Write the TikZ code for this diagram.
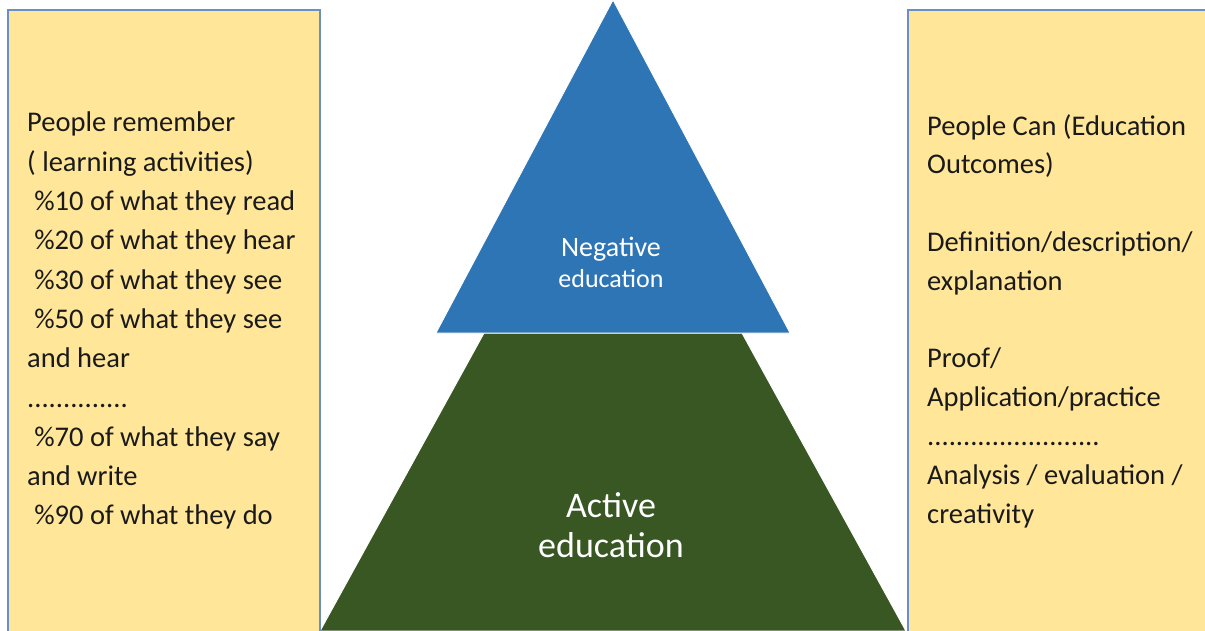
\documentclass[tikz,border=0pt]{standalone}
\usepackage{fontspec}
\setmainfont{Carlito}
\definecolor{boxfill}{HTML}{FFE699}
\definecolor{boxline}{HTML}{6A8FC4}
\definecolor{triblue}{HTML}{2E75B6}
\definecolor{trigreen}{HTML}{385723}
\definecolor{txt}{HTML}{1A1A1A}
\begin{document}
\begin{tikzpicture}[x=1pt,y=-1pt,
  sidebox/.style={fill=boxfill,draw=boxline,line width=1.3pt},
  sidetext/.style={anchor=north west,align=left,inner sep=0pt,text=txt},
  shapelabel/.style={text=white,align=center,inner sep=0pt}]
\useasboundingbox (0,0) rectangle (1205,631);
% pyramid
\path[fill=trigreen,draw=white,line width=1pt] (484,333) -- (742,333) -- (906,631) -- (320,631) -- cycle;
\path[fill=triblue,draw=white,line width=0.8pt] (613,0) -- (790,333) -- (436,333) -- cycle;
% side boxes
\path[sidebox] (8,10) rectangle (320,640);
\path[sidebox] (908,10) rectangle (1215,640);
\node[sidetext,font=\fontsize{28.5}{39.3}\selectfont] (lefttext) at (27,112) {People remember\\
( learning activities)\\
\hspace{0.25em}\%10 of what they read\\
\hspace{0.25em}\%20 of what they hear\\
\hspace{0.25em}\%30 of what they see\\
\hspace{0.25em}\%50 of what they see\\
and hear\\
..............\\
\hspace{0.25em}\%70 of what they say\\
and write\\
\hspace{0.25em}\%90 of what they do};
\node[sidetext,font=\fontsize{28.5}{38.8}\selectfont] (righttext) at (927,114) {People Can (Education\\
Outcomes)\\
\mbox{}\\
Definition/description/\\
explanation\\
\mbox{}\\
Proof/\\
Application/practice\\
........................\\
Analysis / evaluation /\\
creativity};
% labels
\node[shapelabel,font=\fontsize{28}{31}\selectfont] (neglabel) at (611,262) {Negative\\{\fontsize{26}{31}\selectfont education}};
\node[shapelabel,font=\fontsize{36}{40}\selectfont] (actlabel) at (611,525) {Active\\education};
\end{tikzpicture}
\end{document}
